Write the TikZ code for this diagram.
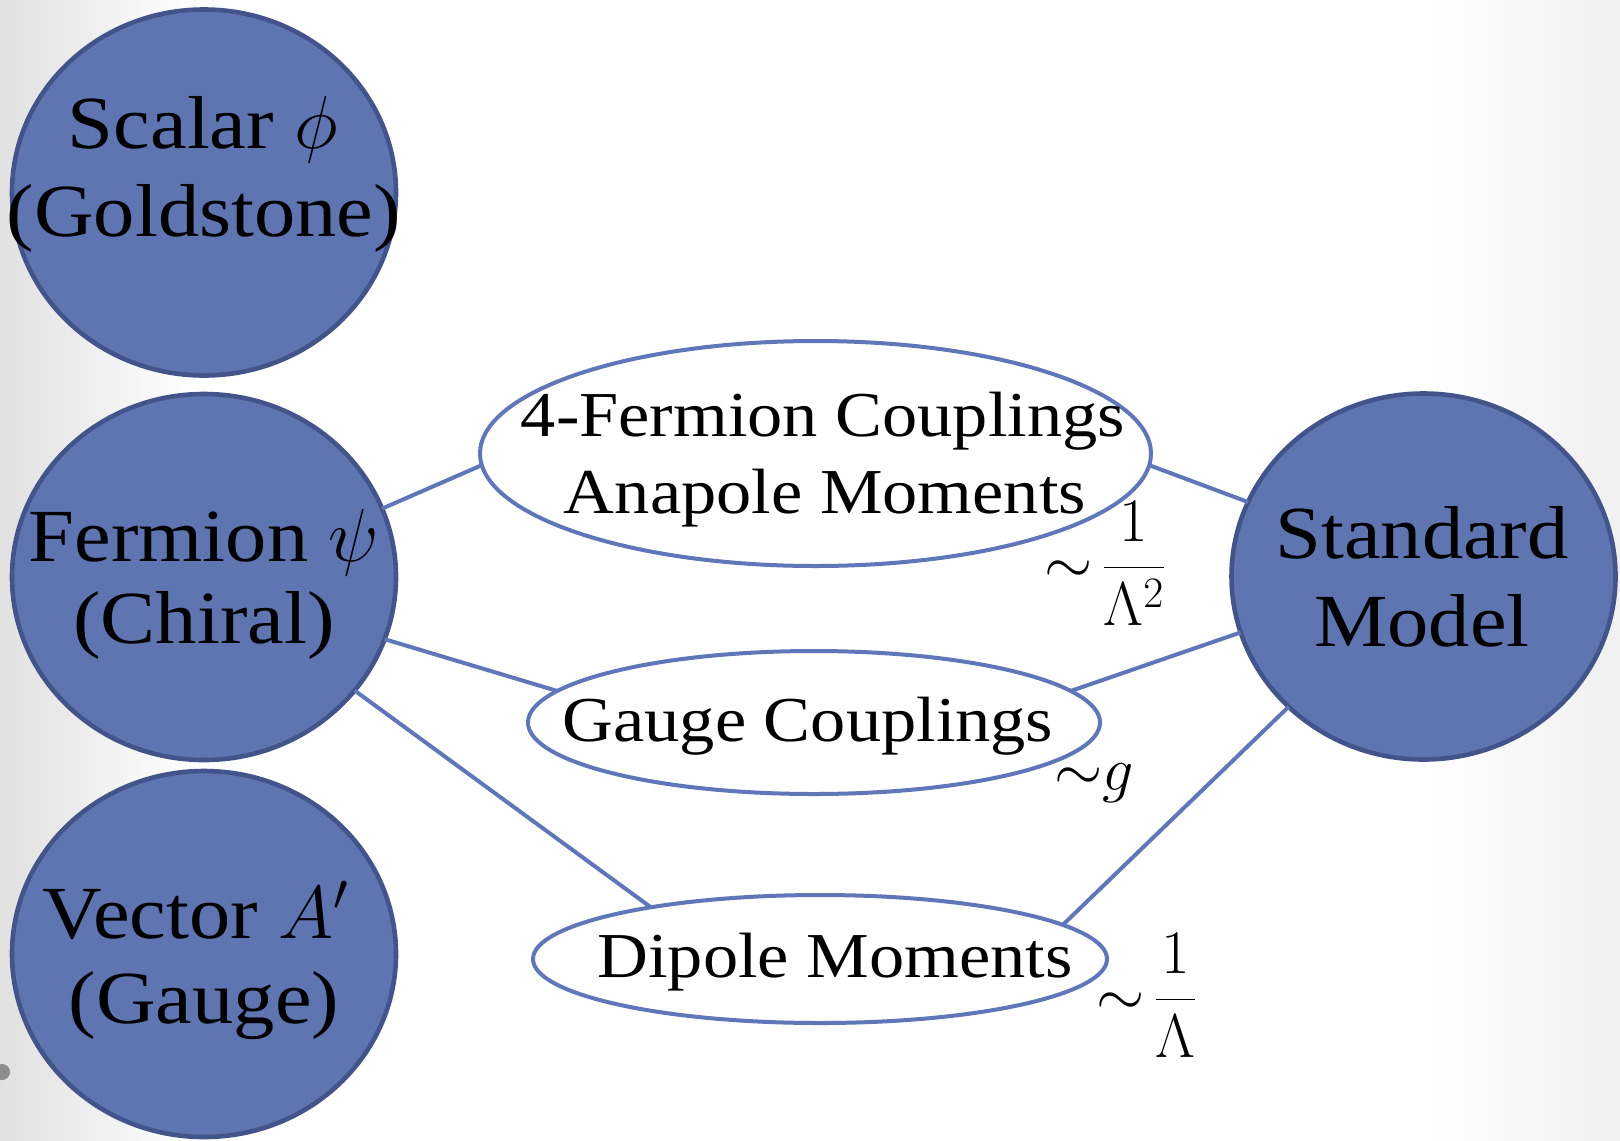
\RequirePackage{fix-cm}
\documentclass[tikz,border=0pt]{standalone}
\usepackage{fontspec}
\setmainfont{Liberation Serif}[FakeStretch=1.1]
\usetikzlibrary{shapes.geometric}
\definecolor{orbfill}{HTML}{5F75B2}
\definecolor{orbline}{HTML}{42548A}
\definecolor{linkblue}{HTML}{5F76B8}
% paper: grey at the left and right margins, white across the middle
\pgfdeclarehorizontalshading{paper}{100bp}{color(0bp)=(black!12); color(25bp)=(black!12); color(31bp)=(white); color(69bp)=(white); color(75bp)=(black!6); color(100bp)=(black!6)}
\begin{document}
\begin{tikzpicture}[x=0.5pt,y=-0.5pt,
  particle/.style={ellipse,draw=orbline,fill=orbfill,line width=2.3pt,inner sep=0pt,outer sep=0pt,minimum width=192pt,minimum height=183pt},
  operator/.style={ellipse,draw=linkblue,fill=white,line width=2pt,inner sep=0pt,outer sep=0pt},
  link/.style={draw=linkblue,line width=2pt},
  bigtext/.style={anchor=base,inner sep=0pt,font=\fontsize{37.5}{44}\selectfont},
  midtext/.style={anchor=base,inner sep=0pt,font=\fontsize{32}{38}\selectfont},
  scaling/.style={anchor=base west,inner sep=0pt,font=\fontsize{31}{36}\selectfont}]
\shade[shading=paper] (0,0) rectangle (1620,1140);
\useasboundingbox (0,0) rectangle (1620,1140);
\fill[black!45] (2,1072) circle[radius=4pt];

% particle species
\node[particle] (scalar) at (204,192.5) {};
\node[particle] (fermion) at (204,577) {};
\node[particle] (vector) at (204,954) {};
\node[particle] (sm) at (1423.5,576.5) {};

% portal operators
\node[operator,minimum width=335.5pt,minimum height=112.5pt] (fourf) at (815.5,453.5) {};
\node[operator,minimum width=286pt,minimum height=71.5pt] (gauge) at (814,722.5) {};
\node[operator,minimum width=287pt,minimum height=64pt] (dipole) at (820,959) {};

% couplings
\draw[link] (fermion.21.75) -- (fourf.182.8);
\draw[link] (fermion.-19.5) -- (gauge.173.4);
\draw[link] (fermion.-37.7) -- (dipole.163.5);
\draw[link] (fourf.-2) -- (sm.157.7);
\draw[link] (gauge.7.3) -- (sm.197.5);
\draw[link] (dipole.8.7) -- (sm.224.2);

% labels
\node[bigtext] (scalarA) at (203,148) {Scalar $\phi$};
\node[bigtext] (scalarB) at (204,236) {(Goldstone)};
\node[bigtext] (fermionA) at (204,561) {Fermion $\psi$};
\node[bigtext] (fermionB) at (204,643) {(Chiral)};
\node[bigtext] (vectorA) at (196,938) {Vector $A'$};
\node[bigtext] (vectorB) at (204,1023) {(Gauge)};
\node[bigtext] (smA) at (1422,558) {Standard};
\node[bigtext] (smB) at (1422,646) {Model};
\node[midtext] (fourfA) at (823,436) {4-Fermion Couplings};
\node[midtext] (fourfB) at (825,513) {Anapole Moments};
\node[midtext] (gaugeA) at (808,741) {Gauge Couplings};
\node[midtext] (dipoleA) at (835,977) {Dipole Moments};

% suppression factors
\node[scaling] (lamsq) at (1044,583) {$\sim\mkern-2.5mu\displaystyle\frac{1}{\Lambda^{2}}$};
\node[scaling] (gee) at (1054,790) {${\sim}g$};
\node[scaling] (lam) at (1096,1015) {$\sim\mkern-2.5mu\displaystyle\frac{1}{\Lambda}$};
\end{tikzpicture}
\end{document}
